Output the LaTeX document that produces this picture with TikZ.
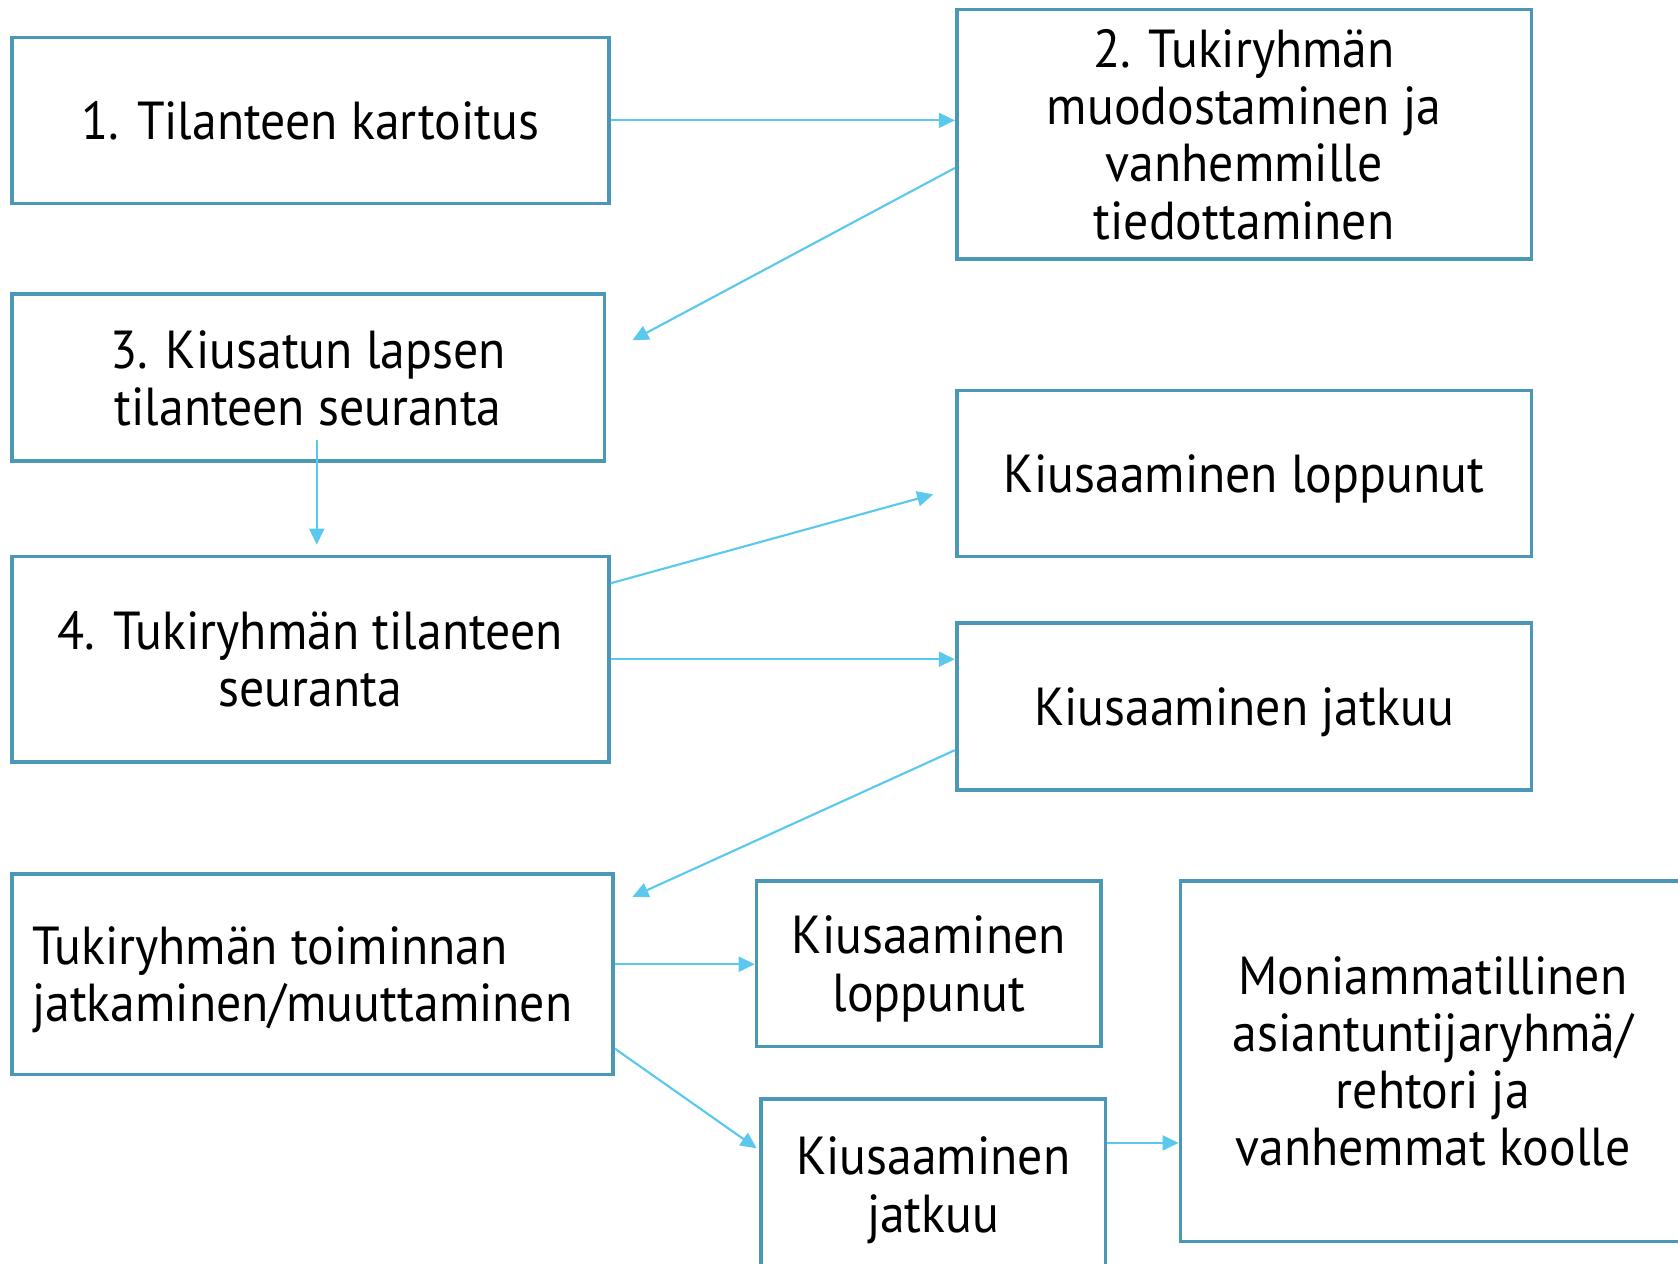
\documentclass[tikz,border=0pt]{standalone}
\usepackage{fontspec}
\setmainfont[FakeStretch=0.93]{PT Sans}
\usetikzlibrary{arrows.meta}
\definecolor{boxc}{HTML}{4A98B5}
\definecolor{arrc}{HTML}{5BC8EE}
\tikzset{
  box/.style={draw=boxc, line width=1.7pt, fill=white, inner sep=0pt, align=center,
    text depth=0pt, font=\fontsize{25}{26.75}\selectfont},
  conn/.style={draw=arrc, line width=1pt, -{Triangle[length=7.5pt,width=7pt]}},
}
\begin{document}
\begin{tikzpicture}[x=0.5pt,y=-0.5pt]
\useasboundingbox (0,0) rectangle (1568,1181);
\clip (0,0) rectangle (1568,1181);
\node[box, minimum width=279pt, minimum height=77.5pt] (b1) at (290,112.5) {1. Tilanteen kartoitus};
\node[box, minimum width=268.5pt, minimum height=116.5pt] (b2) at (1162.5,125.5) {2. Tukiryhmän\\muodostaminen ja\\vanhemmille\\tiedottaminen};
\node[box, minimum width=277pt, minimum height=78pt] (b3) at (288,353) {3. Kiusatun lapsen\\tilanteen seuranta};
\node[box, minimum width=279pt, minimum height=96pt] (b4) at (290,616) {4. Tukiryhmän tilanteen\\seuranta};
\node[box, minimum width=268.5pt, minimum height=77.5pt] (kl1) at (1162.5,442.5) {Kiusaaminen loppunut};
\node[box, minimum width=268.5pt, minimum height=78pt] (kj1) at (1162.5,660) {Kiusaaminen jatkuu};
\node[box, minimum width=281pt, minimum height=93.5pt, text width=262pt, align=flush left, text depth=26.75pt] (b5) at (292,910.5) {Tukiryhmän toiminnan\\jatkaminen/muuttaminen};
\node[box, minimum width=161pt, minimum height=77.5pt] (kl2) at (868,900.5) {Kiusaaminen\\loppunut};
\node[box, minimum width=161pt, minimum height=80pt] (kj2) at (872,1107) {Kiusaaminen\\jatkuu};
\node[box, minimum width=236pt, minimum height=168.5pt] (mo) at (1339,991.5) {Moniammatillinen\\asiantuntijaryhmä/\\rehtori ja\\vanhemmat koolle};

\coordinate (e23) at (591,318);
\coordinate (s34) at (296,411);
\coordinate (e34) at (296,509);
\coordinate (e4kl) at (872,462);
\coordinate (e5) at (591,838);
\coordinate (e5kj) at (707,1073);

\draw[conn] (b1.east) -- (b1.east -| b2.west);
\draw[conn] (b2.west |- 0,157) -- (e23);
\draw[conn] (s34) -- (e34);
\draw[conn] (b4.east |- 0,545) -- (e4kl);
\draw[conn] (b4.east |- 0,616) -- (kj1.west |- 0,616);
\draw[conn] (kj1.west |- 0,701) -- (e5);
\draw[conn] (b5.east |- 0,901) -- (kl2.west |- 0,901);
\draw[conn] (b5.east |- 0,980) -- (e5kj);
\draw[conn] (kj2.east |- 0,1068) -- (mo.west |- 0,1068);
\end{tikzpicture}
\end{document}
